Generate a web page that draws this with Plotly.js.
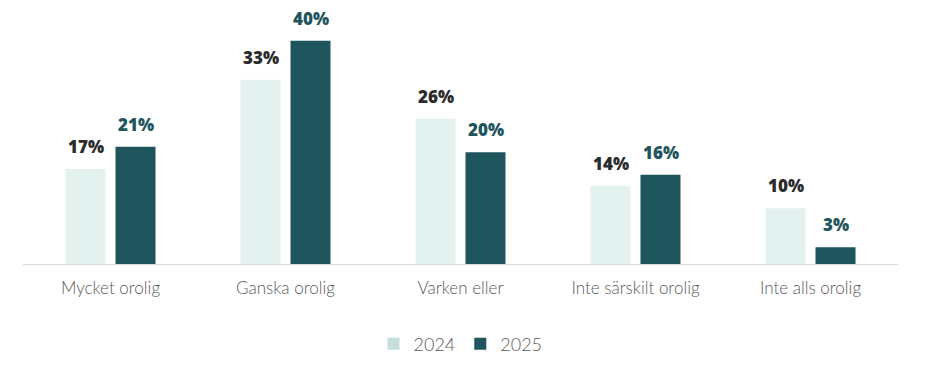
<!DOCTYPE html>
<html><head><meta charset="utf-8">
<script src="https://cdn.plot.ly/plotly-3.0.1.min.js"></script>
<style>html,body{margin:0;padding:0;background:#fff}#chart{width:929px;height:379px}</style>
</head><body><div id="chart"></div>
<script>
const categories = ["Mycket orolig","Ganska orolig","Varken eller","Inte särskilt orolig","Inte alls orolig"];
const values2024 = [17,33,26,14,10];
const values2025 = [21,40,20,16,3];
const seriesNames = ["2024","2025"];

const c2024 = "#e4f2ef", c2025 = "#1f555d";
const legend2024 = "#c6dfdd";

const traces = [
  {type:"bar", x:categories, y:values2024, name:seriesNames[0], marker:{color:c2024}, showlegend:false, hoverinfo:"none", offsetgroup:"a"},
  {type:"bar", x:categories, y:values2025, name:seriesNames[1], marker:{color:c2025}, showlegend:false, hoverinfo:"none", offsetgroup:"b"},
  {type:"bar", x:[null], y:[null], name:seriesNames[0], marker:{color:legend2024}, showlegend:true},
  {type:"bar", x:[null], y:[null], name:seriesNames[1], marker:{color:c2025}, showlegend:true}
];

const annotations = [];
categories.forEach((c,i)=>{
  annotations.push({x:c, y:values2024[i], xref:"x", yref:"y", text:values2024[i]+"%", showarrow:false, yanchor:"bottom", yshift:9, xshift:-25,
    font:{family:"'Open Sans', sans-serif", size:17, color:"#2b2b2b", weight:800}});
  annotations.push({x:c, y:values2025[i], xref:"x", yref:"y", text:values2025[i]+"%", showarrow:false, yanchor:"bottom", yshift:9, xshift:25,
    font:{family:"'Open Sans', sans-serif", size:17, color:c2025, weight:800}});
});

const layout = {
  width:929, height:379,
  margin:{l:23, r:31, t:10, b:115},
  paper_bgcolor:"#fff", plot_bgcolor:"#fff",
  barmode:"group", bargap:0.4286, bargroupgap:0.2,
  xaxis:{showline:true, linecolor:"#d9d9d9", linewidth:1, showgrid:false, zeroline:false,
    ticks:"outside", ticklen:9, tickcolor:"rgba(0,0,0,0)",
    tickfont:{family:"Lato, sans-serif", size:17, color:"#595959", weight:300}},
  yaxis:{range:[0,45.5], visible:false, showgrid:false, zeroline:false, fixedrange:true},
  legend:{orientation:"h", x:0.5, xanchor:"center", y:-0.315, yanchor:"middle",
    font:{family:"Lato, sans-serif", size:18, color:"#595959", weight:300}, itemwidth:30, tracegroupgap:0},
  annotations:annotations,
  showlegend:true
};
Plotly.newPlot("chart", traces, layout, {displayModeBar:false, staticPlot:true});
</script></body></html>
